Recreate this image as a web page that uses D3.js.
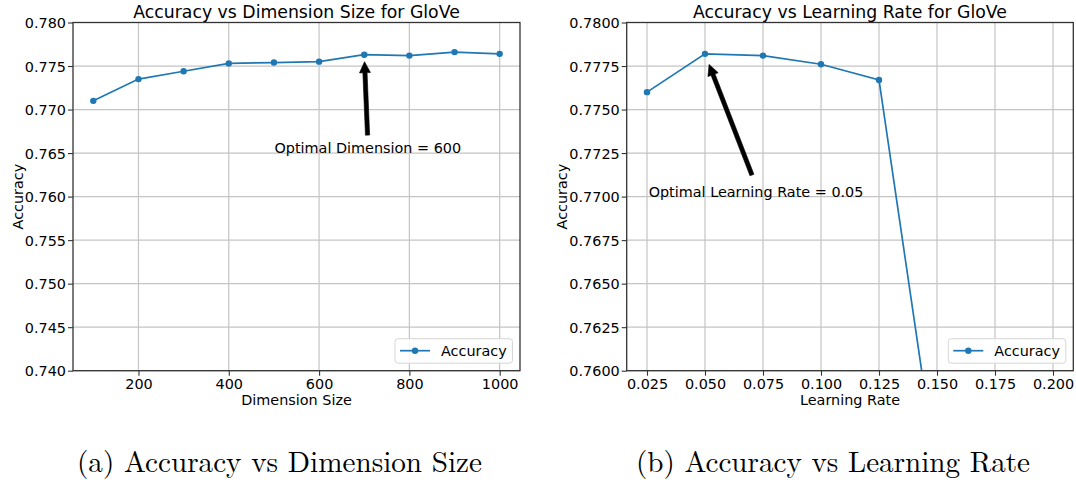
<!DOCTYPE html>
<html>
<head>
<meta charset="utf-8">
<script src="https://cdn.jsdelivr.net/npm/d3@7"></script>
<style>
  html, body { margin: 0; padding: 0; background: #fff; }
  svg { display: block; }
  text { font-family: "DejaVu Sans", sans-serif; fill: #000; }
  .caption { font-family: "Latin Modern Roman", "CMU Serif", "Liberation Serif", "DejaVu Serif", serif; }
</style>
</head>
<body>
<svg id="fig" width="1076" height="482"></svg>
<script>
// GloVe tuning results
const dimSizes = [100, 200, 300, 400, 500, 600, 700, 800, 900, 1000];
const dimAccuracy = [0.7710, 0.7735, 0.7744, 0.7753, 0.7754, 0.7755, 0.7763, 0.7762, 0.7766, 0.7764];
const dimTicksX = [200, 400, 600, 800, 1000];
const dimTicksY = [0.740, 0.745, 0.750, 0.755, 0.760, 0.765, 0.770, 0.775, 0.780];

const lrRates = [0.025, 0.050, 0.075, 0.100, 0.125, 0.150];
const lrAccuracy = [0.7760, 0.7782, 0.7781, 0.7776, 0.7767, 0.7540];
const lrTicksX = [0.025, 0.050, 0.075, 0.100, 0.125, 0.150, 0.175, 0.200];
const lrTicksY = [0.7600, 0.7625, 0.7650, 0.7675, 0.7700, 0.7725, 0.7750, 0.7775, 0.7800];

const panels = [
  {
    title: "Accuracy vs Dimension Size for GloVe",
    xLabel: "Dimension Size",
    caption: "(a) Accuracy vs Dimension Size",
    xs: dimSizes, ys: dimAccuracy,
    xTicks: dimTicksX, yTicks: dimTicksY,
    xFmt: d3.format("d"), yFmt: d3.format(".3f"),
    xExtent: [100, 1000],
    note: { text: "Optimal Dimension = 600", at: [708, 0.765], target: 6 },
    box: { left: 73, right: 520, top: 22.5, bottom: 370.7 },
    yLabelX: 17.5,
    captionX: 279.5, captionLen: 405
  },
  {
    title: "Accuracy vs Learning Rate for GloVe",
    xLabel: "Learning Rate",
    caption: "(b) Accuracy vs Learning Rate",
    xs: lrRates, ys: lrAccuracy,
    xTicks: lrTicksX, yTicks: lrTicksY,
    xFmt: d3.format(".3f"), yFmt: d3.format(".4f"),
    xExtent: [0.025, 0.200],
    note: { text: "Optimal Learning Rate = 0.05", at: [0.072, 0.770], target: 1 },
    box: { left: 626.7, right: 1073.3, top: 22.5, bottom: 370.7 },
    yLabelX: 561.5,
    captionX: 833, captionLen: 394
  }
];

const svg = d3.select("#fig");
const blue = "#1f77b4";
const fs = 14.4;

panels.forEach((p, i) => {
  const b = p.box;
  const pad = (p.xExtent[1] - p.xExtent[0]) * 0.05;
  const x = d3.scaleLinear().domain([p.xExtent[0] - pad, p.xExtent[1] + pad]).range([b.left, b.right]);
  const y = d3.scaleLinear().domain([p.yTicks[0], p.yTicks[p.yTicks.length - 1]]).range([b.bottom, b.top]);
  const g = svg.append("g");

  // grid
  g.append("g").selectAll("line").data(p.xTicks).join("line")
    .attr("x1", d => x(d)).attr("x2", d => x(d))
    .attr("y1", b.top).attr("y2", b.bottom)
    .attr("stroke", "#c4c4c4").attr("stroke-width", 1.2);
  g.append("g").selectAll("line").data(p.yTicks).join("line")
    .attr("x1", b.left).attr("x2", b.right)
    .attr("y1", d => y(d)).attr("y2", d => y(d))
    .attr("stroke", "#c4c4c4").attr("stroke-width", 1.2);

  // axes
  const xAxis = d3.axisBottom(x).tickValues(p.xTicks).tickFormat(p.xFmt).tickSize(5).tickPadding(3);
  const yAxis = d3.axisLeft(y).tickValues(p.yTicks).tickFormat(p.yFmt).tickSize(5).tickPadding(2);
  const gx = g.append("g").attr("transform", `translate(0,${b.bottom})`).call(xAxis);
  const gy = g.append("g").attr("transform", `translate(${b.left},0)`).call(yAxis);
  [gx, gy].forEach(ax => {
    ax.select(".domain").remove();
    ax.selectAll(".tick line").attr("stroke", "#333").attr("stroke-width", 1.1);
    ax.selectAll(".tick text").attr("font-size", fs).attr("font-family", "DejaVu Sans").attr("fill", "#000");
  });
  gy.selectAll(".tick text").attr("dy", "0.36em");

  // clipped data line
  const clipId = "clip" + i;
  g.append("clipPath").attr("id", clipId).append("rect")
    .attr("x", b.left).attr("y", b.top).attr("width", b.right - b.left).attr("height", b.bottom - b.top);
  const pts = p.xs.map((v, k) => [v, p.ys[k]]);
  const plot = g.append("g").attr("clip-path", `url(#${clipId})`);
  plot.append("path").datum(pts)
    .attr("d", d3.line().x(d => x(d[0])).y(d => y(d[1])))
    .attr("fill", "none").attr("stroke", blue).attr("stroke-width", 1.7);
  plot.selectAll("circle").data(pts).join("circle")
    .attr("cx", d => x(d[0])).attr("cy", d => y(d[1])).attr("r", 3.2).attr("fill", blue);

  // frame
  g.append("rect").attr("x", b.left).attr("y", b.top)
    .attr("width", b.right - b.left).attr("height", b.bottom - b.top)
    .attr("fill", "none").attr("stroke", "#333").attr("stroke-width", 1.3);

  // title and axis labels
  g.append("text").attr("x", (b.left + b.right) / 2).attr("y", 18)
    .attr("text-anchor", "middle").attr("font-size", 17.3).text(p.title);
  g.append("text").attr("x", (b.left + b.right) / 2).attr("y", 405)
    .attr("text-anchor", "middle").attr("font-size", fs).text(p.xLabel);
  g.append("text").attr("transform", `translate(${p.yLabelX + 5},${(b.top + b.bottom) / 2}) rotate(-90)`)
    .attr("text-anchor", "middle").attr("font-size", fs).text("Accuracy");

  // annotation with arrow
  const tx = x(p.note.at[0]), ty = y(p.note.at[1]);
  g.append("text").attr("x", tx).attr("y", ty).attr("text-anchor", "middle")
    .attr("font-size", fs).text(p.note.text);
  const hx = x(p.xs[p.note.target]), hy = y(p.ys[p.note.target]);
  const sx = tx, sy = ty - 11;
  const dx = hx - sx, dy = hy - sy, len = Math.hypot(dx, dy);
  const ux = dx / len, uy = dy / len;
  const shrink = len * 0.08;
  const ax0 = sx + ux * shrink, ay0 = sy + uy * shrink;
  const ax1 = hx - ux * shrink, ay1 = hy - uy * shrink;
  const nx = -uy, ny = ux;
  const sw = 2.1, hw = 5.5, hl = 11;
  const bx = ax1 - ux * hl, by = ay1 - uy * hl;
  const poly = [
    [ax0 + nx * sw, ay0 + ny * sw],
    [bx + nx * sw, by + ny * sw],
    [bx + nx * hw, by + ny * hw],
    [ax1, ay1],
    [bx - nx * hw, by - ny * hw],
    [bx - nx * sw, by - ny * sw],
    [ax0 - nx * sw, ay0 - ny * sw]
  ];
  g.append("path").attr("d", "M" + poly.map(q => q.join(",")).join("L") + "Z")
    .attr("fill", "#000").attr("stroke", "#000").attr("stroke-width", 0.6);

  // legend
  const lgX = b.right - 7.5 - 117.5, lgY = b.bottom - 7.5 - 24.5;
  const lg = g.append("g").attr("transform", `translate(${lgX},${lgY})`);
  lg.append("rect").attr("width", 117.5).attr("height", 24.5).attr("rx", 3)
    .attr("fill", "#fff").attr("fill-opacity", 0.85).attr("stroke", "#d6d6d6");
  lg.append("line").attr("x1", 5).attr("x2", 35).attr("y1", 12).attr("y2", 12)
    .attr("stroke", blue).attr("stroke-width", 1.7);
  lg.append("circle").attr("cx", 20).attr("cy", 12).attr("r", 3.2).attr("fill", blue);
  lg.append("text").attr("x", 46).attr("y", 17).attr("font-size", fs).text("Accuracy");

  // caption
  svg.append("text").attr("class", "caption").attr("x", p.captionX).attr("y", 472)
    .attr("text-anchor", "middle").attr("font-size", 29)
    .attr("textLength", p.captionLen).attr("lengthAdjust", "spacingAndGlyphs")
    .text(p.caption);
});
</script>
</body>
</html>
